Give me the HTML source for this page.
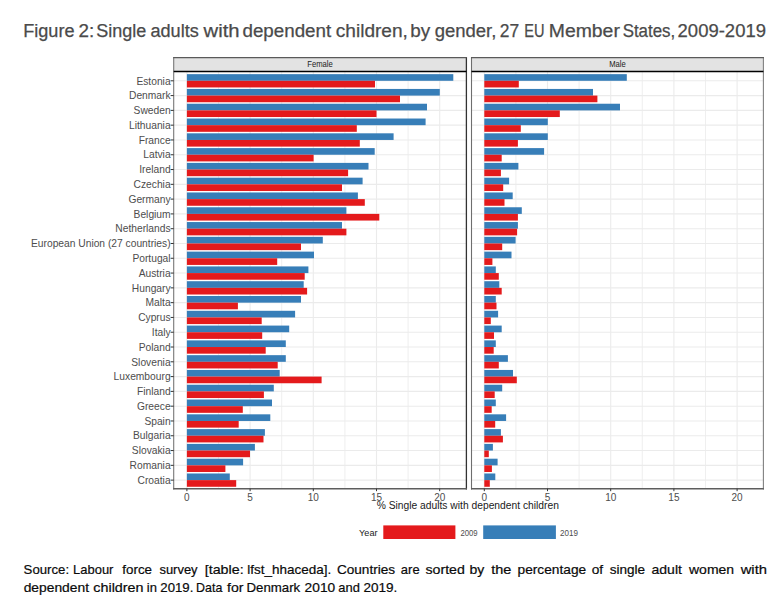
<!DOCTYPE html>
<html><head><meta charset="utf-8"><style>
html,body{margin:0;padding:0;background:#fff;width:774px;height:612px;overflow:hidden}
svg{display:block;font-family:"Liberation Sans",sans-serif}
</style></head><body>
<svg width="774" height="612" viewBox="0 0 774 612">
<rect width="774" height="612" fill="#fff"/>
<rect x="173.7" y="57.6" width="292.7" height="13.899999999999999" fill="#E3E3E3"/>
<text x="320.04999999999995" y="67.2" font-size="8.4" text-anchor="middle" fill="#1A1A1A" textLength="25.6" lengthAdjust="spacingAndGlyphs">Female</text>
<rect x="173.7" y="71.5" width="292.7" height="417.2" fill="#fff"/>
<line x1="218.50" y1="71.5" x2="218.50" y2="488.7" stroke="#EBEBEB" stroke-width="0.8"/>
<line x1="281.70" y1="71.5" x2="281.70" y2="488.7" stroke="#EBEBEB" stroke-width="0.8"/>
<line x1="344.90" y1="71.5" x2="344.90" y2="488.7" stroke="#EBEBEB" stroke-width="0.8"/>
<line x1="408.10" y1="71.5" x2="408.10" y2="488.7" stroke="#EBEBEB" stroke-width="0.8"/>
<line x1="186.90" y1="71.5" x2="186.90" y2="488.7" stroke="#EBEBEB" stroke-width="1.1"/>
<line x1="250.10" y1="71.5" x2="250.10" y2="488.7" stroke="#EBEBEB" stroke-width="1.1"/>
<line x1="313.30" y1="71.5" x2="313.30" y2="488.7" stroke="#EBEBEB" stroke-width="1.1"/>
<line x1="376.50" y1="71.5" x2="376.50" y2="488.7" stroke="#EBEBEB" stroke-width="1.1"/>
<line x1="439.70" y1="71.5" x2="439.70" y2="488.7" stroke="#EBEBEB" stroke-width="1.1"/>
<line x1="173.7" y1="80.80" x2="466.4" y2="80.80" stroke="#EBEBEB" stroke-width="1.1"/>
<line x1="173.7" y1="95.59" x2="466.4" y2="95.59" stroke="#EBEBEB" stroke-width="1.1"/>
<line x1="173.7" y1="110.38" x2="466.4" y2="110.38" stroke="#EBEBEB" stroke-width="1.1"/>
<line x1="173.7" y1="125.17" x2="466.4" y2="125.17" stroke="#EBEBEB" stroke-width="1.1"/>
<line x1="173.7" y1="139.96" x2="466.4" y2="139.96" stroke="#EBEBEB" stroke-width="1.1"/>
<line x1="173.7" y1="154.75" x2="466.4" y2="154.75" stroke="#EBEBEB" stroke-width="1.1"/>
<line x1="173.7" y1="169.54" x2="466.4" y2="169.54" stroke="#EBEBEB" stroke-width="1.1"/>
<line x1="173.7" y1="184.33" x2="466.4" y2="184.33" stroke="#EBEBEB" stroke-width="1.1"/>
<line x1="173.7" y1="199.12" x2="466.4" y2="199.12" stroke="#EBEBEB" stroke-width="1.1"/>
<line x1="173.7" y1="213.91" x2="466.4" y2="213.91" stroke="#EBEBEB" stroke-width="1.1"/>
<line x1="173.7" y1="228.70" x2="466.4" y2="228.70" stroke="#EBEBEB" stroke-width="1.1"/>
<line x1="173.7" y1="243.49" x2="466.4" y2="243.49" stroke="#EBEBEB" stroke-width="1.1"/>
<line x1="173.7" y1="258.28" x2="466.4" y2="258.28" stroke="#EBEBEB" stroke-width="1.1"/>
<line x1="173.7" y1="273.07" x2="466.4" y2="273.07" stroke="#EBEBEB" stroke-width="1.1"/>
<line x1="173.7" y1="287.86" x2="466.4" y2="287.86" stroke="#EBEBEB" stroke-width="1.1"/>
<line x1="173.7" y1="302.65" x2="466.4" y2="302.65" stroke="#EBEBEB" stroke-width="1.1"/>
<line x1="173.7" y1="317.44" x2="466.4" y2="317.44" stroke="#EBEBEB" stroke-width="1.1"/>
<line x1="173.7" y1="332.23" x2="466.4" y2="332.23" stroke="#EBEBEB" stroke-width="1.1"/>
<line x1="173.7" y1="347.02" x2="466.4" y2="347.02" stroke="#EBEBEB" stroke-width="1.1"/>
<line x1="173.7" y1="361.81" x2="466.4" y2="361.81" stroke="#EBEBEB" stroke-width="1.1"/>
<line x1="173.7" y1="376.60" x2="466.4" y2="376.60" stroke="#EBEBEB" stroke-width="1.1"/>
<line x1="173.7" y1="391.39" x2="466.4" y2="391.39" stroke="#EBEBEB" stroke-width="1.1"/>
<line x1="173.7" y1="406.18" x2="466.4" y2="406.18" stroke="#EBEBEB" stroke-width="1.1"/>
<line x1="173.7" y1="420.97" x2="466.4" y2="420.97" stroke="#EBEBEB" stroke-width="1.1"/>
<line x1="173.7" y1="435.76" x2="466.4" y2="435.76" stroke="#EBEBEB" stroke-width="1.1"/>
<line x1="173.7" y1="450.55" x2="466.4" y2="450.55" stroke="#EBEBEB" stroke-width="1.1"/>
<line x1="173.7" y1="465.34" x2="466.4" y2="465.34" stroke="#EBEBEB" stroke-width="1.1"/>
<line x1="173.7" y1="480.13" x2="466.4" y2="480.13" stroke="#EBEBEB" stroke-width="1.1"/>
<rect x="186.9" y="74.15" width="266.40" height="6.65" fill="#377EB8"/>
<rect x="186.9" y="80.80" width="188.10" height="6.65" fill="#E41A1C"/>
<rect x="186.9" y="88.94" width="252.90" height="6.65" fill="#377EB8"/>
<rect x="186.9" y="95.59" width="213.10" height="6.65" fill="#E41A1C"/>
<rect x="186.9" y="103.73" width="240.10" height="6.65" fill="#377EB8"/>
<rect x="186.9" y="110.38" width="189.60" height="6.65" fill="#E41A1C"/>
<rect x="186.9" y="118.52" width="238.70" height="6.65" fill="#377EB8"/>
<rect x="186.9" y="125.17" width="169.90" height="6.65" fill="#E41A1C"/>
<rect x="186.9" y="133.31" width="206.70" height="6.65" fill="#377EB8"/>
<rect x="186.9" y="139.96" width="172.90" height="6.65" fill="#E41A1C"/>
<rect x="186.9" y="148.10" width="187.80" height="6.65" fill="#377EB8"/>
<rect x="186.9" y="154.75" width="126.70" height="6.65" fill="#E41A1C"/>
<rect x="186.9" y="162.89" width="181.60" height="6.65" fill="#377EB8"/>
<rect x="186.9" y="169.54" width="161.20" height="6.65" fill="#E41A1C"/>
<rect x="186.9" y="177.68" width="175.70" height="6.65" fill="#377EB8"/>
<rect x="186.9" y="184.33" width="155.10" height="6.65" fill="#E41A1C"/>
<rect x="186.9" y="192.47" width="171.00" height="6.65" fill="#377EB8"/>
<rect x="186.9" y="199.12" width="177.90" height="6.65" fill="#E41A1C"/>
<rect x="186.9" y="207.26" width="159.50" height="6.65" fill="#377EB8"/>
<rect x="186.9" y="213.91" width="192.40" height="6.65" fill="#E41A1C"/>
<rect x="186.9" y="222.05" width="155.10" height="6.65" fill="#377EB8"/>
<rect x="186.9" y="228.70" width="159.50" height="6.65" fill="#E41A1C"/>
<rect x="186.9" y="236.84" width="135.90" height="6.65" fill="#377EB8"/>
<rect x="186.9" y="243.49" width="114.10" height="6.65" fill="#E41A1C"/>
<rect x="186.9" y="251.63" width="127.10" height="6.65" fill="#377EB8"/>
<rect x="186.9" y="258.28" width="90.30" height="6.65" fill="#E41A1C"/>
<rect x="186.9" y="266.42" width="121.50" height="6.65" fill="#377EB8"/>
<rect x="186.9" y="273.07" width="117.80" height="6.65" fill="#E41A1C"/>
<rect x="186.9" y="281.21" width="116.80" height="6.65" fill="#377EB8"/>
<rect x="186.9" y="287.86" width="120.20" height="6.65" fill="#E41A1C"/>
<rect x="186.9" y="296.00" width="114.10" height="6.65" fill="#377EB8"/>
<rect x="186.9" y="302.65" width="51.00" height="6.65" fill="#E41A1C"/>
<rect x="186.9" y="310.79" width="108.20" height="6.65" fill="#377EB8"/>
<rect x="186.9" y="317.44" width="74.80" height="6.65" fill="#E41A1C"/>
<rect x="186.9" y="325.58" width="102.30" height="6.65" fill="#377EB8"/>
<rect x="186.9" y="332.23" width="75.30" height="6.65" fill="#E41A1C"/>
<rect x="186.9" y="340.37" width="98.90" height="6.65" fill="#377EB8"/>
<rect x="186.9" y="347.02" width="78.80" height="6.65" fill="#E41A1C"/>
<rect x="186.9" y="355.16" width="98.90" height="6.65" fill="#377EB8"/>
<rect x="186.9" y="361.81" width="90.80" height="6.65" fill="#E41A1C"/>
<rect x="186.9" y="369.95" width="92.80" height="6.65" fill="#377EB8"/>
<rect x="186.9" y="376.60" width="134.70" height="6.65" fill="#E41A1C"/>
<rect x="186.9" y="384.74" width="86.90" height="6.65" fill="#377EB8"/>
<rect x="186.9" y="391.39" width="77.00" height="6.65" fill="#E41A1C"/>
<rect x="186.9" y="399.53" width="85.10" height="6.65" fill="#377EB8"/>
<rect x="186.9" y="406.18" width="55.90" height="6.65" fill="#E41A1C"/>
<rect x="186.9" y="414.32" width="83.40" height="6.65" fill="#377EB8"/>
<rect x="186.9" y="420.97" width="51.80" height="6.65" fill="#E41A1C"/>
<rect x="186.9" y="429.11" width="78.00" height="6.65" fill="#377EB8"/>
<rect x="186.9" y="435.76" width="76.60" height="6.65" fill="#E41A1C"/>
<rect x="186.9" y="443.90" width="68.00" height="6.65" fill="#377EB8"/>
<rect x="186.9" y="450.55" width="63.10" height="6.65" fill="#E41A1C"/>
<rect x="186.9" y="458.69" width="56.20" height="6.65" fill="#377EB8"/>
<rect x="186.9" y="465.34" width="38.50" height="6.65" fill="#E41A1C"/>
<rect x="186.9" y="473.48" width="42.90" height="6.65" fill="#377EB8"/>
<rect x="186.9" y="480.13" width="49.30" height="6.65" fill="#E41A1C"/>
<line x1="173.7" y1="57.1" x2="173.7" y2="489.5" stroke="#777" stroke-width="1.1"/>
<line x1="466.4" y1="57.1" x2="466.4" y2="489.5" stroke="#333" stroke-width="1.3"/>
<line x1="173.2" y1="57.6" x2="466.9" y2="57.6" stroke="#5A5A5A" stroke-width="1.1"/>
<line x1="173.2" y1="488.7" x2="466.9" y2="488.7" stroke="#5E5E5E" stroke-width="1.6"/>
<line x1="173.7" y1="71.5" x2="466.4" y2="71.5" stroke="#000" stroke-width="1.3"/>
<line x1="186.90" y1="488.7" x2="186.90" y2="491.2" stroke="#333" stroke-width="1"/>
<text x="186.90" y="500.5" font-size="10" text-anchor="middle" fill="#4D4D4D">0</text>
<line x1="250.10" y1="488.7" x2="250.10" y2="491.2" stroke="#333" stroke-width="1"/>
<text x="250.10" y="500.5" font-size="10" text-anchor="middle" fill="#4D4D4D">5</text>
<line x1="313.30" y1="488.7" x2="313.30" y2="491.2" stroke="#333" stroke-width="1"/>
<text x="313.30" y="500.5" font-size="10" text-anchor="middle" fill="#4D4D4D">10</text>
<line x1="376.50" y1="488.7" x2="376.50" y2="491.2" stroke="#333" stroke-width="1"/>
<text x="376.50" y="500.5" font-size="10" text-anchor="middle" fill="#4D4D4D">15</text>
<line x1="439.70" y1="488.7" x2="439.70" y2="491.2" stroke="#333" stroke-width="1"/>
<text x="439.70" y="500.5" font-size="10" text-anchor="middle" fill="#4D4D4D">20</text>
<rect x="471.5" y="57.6" width="291.9" height="13.899999999999999" fill="#E3E3E3"/>
<text x="617.45" y="67.2" font-size="8.4" text-anchor="middle" fill="#1A1A1A" textLength="16.6" lengthAdjust="spacingAndGlyphs">Male</text>
<rect x="471.5" y="71.5" width="291.9" height="417.2" fill="#fff"/>
<line x1="515.90" y1="71.5" x2="515.90" y2="488.7" stroke="#EBEBEB" stroke-width="0.8"/>
<line x1="579.10" y1="71.5" x2="579.10" y2="488.7" stroke="#EBEBEB" stroke-width="0.8"/>
<line x1="642.30" y1="71.5" x2="642.30" y2="488.7" stroke="#EBEBEB" stroke-width="0.8"/>
<line x1="705.50" y1="71.5" x2="705.50" y2="488.7" stroke="#EBEBEB" stroke-width="0.8"/>
<line x1="484.30" y1="71.5" x2="484.30" y2="488.7" stroke="#EBEBEB" stroke-width="1.1"/>
<line x1="547.50" y1="71.5" x2="547.50" y2="488.7" stroke="#EBEBEB" stroke-width="1.1"/>
<line x1="610.70" y1="71.5" x2="610.70" y2="488.7" stroke="#EBEBEB" stroke-width="1.1"/>
<line x1="673.90" y1="71.5" x2="673.90" y2="488.7" stroke="#EBEBEB" stroke-width="1.1"/>
<line x1="737.10" y1="71.5" x2="737.10" y2="488.7" stroke="#EBEBEB" stroke-width="1.1"/>
<line x1="471.5" y1="80.80" x2="763.4" y2="80.80" stroke="#EBEBEB" stroke-width="1.1"/>
<line x1="471.5" y1="95.59" x2="763.4" y2="95.59" stroke="#EBEBEB" stroke-width="1.1"/>
<line x1="471.5" y1="110.38" x2="763.4" y2="110.38" stroke="#EBEBEB" stroke-width="1.1"/>
<line x1="471.5" y1="125.17" x2="763.4" y2="125.17" stroke="#EBEBEB" stroke-width="1.1"/>
<line x1="471.5" y1="139.96" x2="763.4" y2="139.96" stroke="#EBEBEB" stroke-width="1.1"/>
<line x1="471.5" y1="154.75" x2="763.4" y2="154.75" stroke="#EBEBEB" stroke-width="1.1"/>
<line x1="471.5" y1="169.54" x2="763.4" y2="169.54" stroke="#EBEBEB" stroke-width="1.1"/>
<line x1="471.5" y1="184.33" x2="763.4" y2="184.33" stroke="#EBEBEB" stroke-width="1.1"/>
<line x1="471.5" y1="199.12" x2="763.4" y2="199.12" stroke="#EBEBEB" stroke-width="1.1"/>
<line x1="471.5" y1="213.91" x2="763.4" y2="213.91" stroke="#EBEBEB" stroke-width="1.1"/>
<line x1="471.5" y1="228.70" x2="763.4" y2="228.70" stroke="#EBEBEB" stroke-width="1.1"/>
<line x1="471.5" y1="243.49" x2="763.4" y2="243.49" stroke="#EBEBEB" stroke-width="1.1"/>
<line x1="471.5" y1="258.28" x2="763.4" y2="258.28" stroke="#EBEBEB" stroke-width="1.1"/>
<line x1="471.5" y1="273.07" x2="763.4" y2="273.07" stroke="#EBEBEB" stroke-width="1.1"/>
<line x1="471.5" y1="287.86" x2="763.4" y2="287.86" stroke="#EBEBEB" stroke-width="1.1"/>
<line x1="471.5" y1="302.65" x2="763.4" y2="302.65" stroke="#EBEBEB" stroke-width="1.1"/>
<line x1="471.5" y1="317.44" x2="763.4" y2="317.44" stroke="#EBEBEB" stroke-width="1.1"/>
<line x1="471.5" y1="332.23" x2="763.4" y2="332.23" stroke="#EBEBEB" stroke-width="1.1"/>
<line x1="471.5" y1="347.02" x2="763.4" y2="347.02" stroke="#EBEBEB" stroke-width="1.1"/>
<line x1="471.5" y1="361.81" x2="763.4" y2="361.81" stroke="#EBEBEB" stroke-width="1.1"/>
<line x1="471.5" y1="376.60" x2="763.4" y2="376.60" stroke="#EBEBEB" stroke-width="1.1"/>
<line x1="471.5" y1="391.39" x2="763.4" y2="391.39" stroke="#EBEBEB" stroke-width="1.1"/>
<line x1="471.5" y1="406.18" x2="763.4" y2="406.18" stroke="#EBEBEB" stroke-width="1.1"/>
<line x1="471.5" y1="420.97" x2="763.4" y2="420.97" stroke="#EBEBEB" stroke-width="1.1"/>
<line x1="471.5" y1="435.76" x2="763.4" y2="435.76" stroke="#EBEBEB" stroke-width="1.1"/>
<line x1="471.5" y1="450.55" x2="763.4" y2="450.55" stroke="#EBEBEB" stroke-width="1.1"/>
<line x1="471.5" y1="465.34" x2="763.4" y2="465.34" stroke="#EBEBEB" stroke-width="1.1"/>
<line x1="471.5" y1="480.13" x2="763.4" y2="480.13" stroke="#EBEBEB" stroke-width="1.1"/>
<rect x="484.3" y="74.15" width="142.50" height="6.65" fill="#377EB8"/>
<rect x="484.3" y="80.80" width="34.50" height="6.65" fill="#E41A1C"/>
<rect x="484.3" y="88.94" width="108.70" height="6.65" fill="#377EB8"/>
<rect x="484.3" y="95.59" width="113.10" height="6.65" fill="#E41A1C"/>
<rect x="484.3" y="103.73" width="135.70" height="6.65" fill="#377EB8"/>
<rect x="484.3" y="110.38" width="75.50" height="6.65" fill="#E41A1C"/>
<rect x="484.3" y="118.52" width="63.50" height="6.65" fill="#377EB8"/>
<rect x="484.3" y="125.17" width="36.50" height="6.65" fill="#E41A1C"/>
<rect x="484.3" y="133.31" width="63.50" height="6.65" fill="#377EB8"/>
<rect x="484.3" y="139.96" width="33.60" height="6.65" fill="#E41A1C"/>
<rect x="484.3" y="148.10" width="59.80" height="6.65" fill="#377EB8"/>
<rect x="484.3" y="154.75" width="17.40" height="6.65" fill="#E41A1C"/>
<rect x="484.3" y="162.89" width="34.10" height="6.65" fill="#377EB8"/>
<rect x="484.3" y="169.54" width="16.60" height="6.65" fill="#E41A1C"/>
<rect x="484.3" y="177.68" width="24.80" height="6.65" fill="#377EB8"/>
<rect x="484.3" y="184.33" width="18.90" height="6.65" fill="#E41A1C"/>
<rect x="484.3" y="192.47" width="28.40" height="6.65" fill="#377EB8"/>
<rect x="484.3" y="199.12" width="20.20" height="6.65" fill="#E41A1C"/>
<rect x="484.3" y="207.26" width="37.50" height="6.65" fill="#377EB8"/>
<rect x="484.3" y="213.91" width="33.60" height="6.65" fill="#E41A1C"/>
<rect x="484.3" y="222.05" width="33.60" height="6.65" fill="#377EB8"/>
<rect x="484.3" y="228.70" width="32.80" height="6.65" fill="#E41A1C"/>
<rect x="484.3" y="236.84" width="31.30" height="6.65" fill="#377EB8"/>
<rect x="484.3" y="243.49" width="17.90" height="6.65" fill="#E41A1C"/>
<rect x="484.3" y="251.63" width="27.20" height="6.65" fill="#377EB8"/>
<rect x="484.3" y="258.28" width="8.10" height="6.65" fill="#E41A1C"/>
<rect x="484.3" y="266.42" width="11.50" height="6.65" fill="#377EB8"/>
<rect x="484.3" y="273.07" width="14.50" height="6.65" fill="#E41A1C"/>
<rect x="484.3" y="281.21" width="15.00" height="6.65" fill="#377EB8"/>
<rect x="484.3" y="287.86" width="17.40" height="6.65" fill="#E41A1C"/>
<rect x="484.3" y="296.00" width="11.50" height="6.65" fill="#377EB8"/>
<rect x="484.3" y="302.65" width="12.20" height="6.65" fill="#E41A1C"/>
<rect x="484.3" y="310.79" width="13.80" height="6.65" fill="#377EB8"/>
<rect x="484.3" y="317.44" width="6.50" height="6.65" fill="#E41A1C"/>
<rect x="484.3" y="325.58" width="17.40" height="6.65" fill="#377EB8"/>
<rect x="484.3" y="332.23" width="9.70" height="6.65" fill="#E41A1C"/>
<rect x="484.3" y="340.37" width="11.50" height="6.65" fill="#377EB8"/>
<rect x="484.3" y="347.02" width="9.40" height="6.65" fill="#E41A1C"/>
<rect x="484.3" y="355.16" width="23.60" height="6.65" fill="#377EB8"/>
<rect x="484.3" y="361.81" width="14.50" height="6.65" fill="#E41A1C"/>
<rect x="484.3" y="369.95" width="28.70" height="6.65" fill="#377EB8"/>
<rect x="484.3" y="376.60" width="32.50" height="6.65" fill="#E41A1C"/>
<rect x="484.3" y="384.74" width="17.90" height="6.65" fill="#377EB8"/>
<rect x="484.3" y="391.39" width="10.40" height="6.65" fill="#E41A1C"/>
<rect x="484.3" y="399.53" width="11.50" height="6.65" fill="#377EB8"/>
<rect x="484.3" y="406.18" width="7.40" height="6.65" fill="#E41A1C"/>
<rect x="484.3" y="414.32" width="21.80" height="6.65" fill="#377EB8"/>
<rect x="484.3" y="420.97" width="10.90" height="6.65" fill="#E41A1C"/>
<rect x="484.3" y="429.11" width="16.60" height="6.65" fill="#377EB8"/>
<rect x="484.3" y="435.76" width="18.60" height="6.65" fill="#E41A1C"/>
<rect x="484.3" y="443.90" width="8.60" height="6.65" fill="#377EB8"/>
<rect x="484.3" y="450.55" width="4.50" height="6.65" fill="#E41A1C"/>
<rect x="484.3" y="458.69" width="13.30" height="6.65" fill="#377EB8"/>
<rect x="484.3" y="465.34" width="7.60" height="6.65" fill="#E41A1C"/>
<rect x="484.3" y="473.48" width="11.00" height="6.65" fill="#377EB8"/>
<rect x="484.3" y="480.13" width="5.50" height="6.65" fill="#E41A1C"/>
<line x1="471.5" y1="57.1" x2="471.5" y2="489.5" stroke="#6E6E6E" stroke-width="1.1"/>
<line x1="763.4" y1="57.1" x2="763.4" y2="489.5" stroke="#808080" stroke-width="1.1"/>
<line x1="471.0" y1="57.6" x2="763.9" y2="57.6" stroke="#5A5A5A" stroke-width="1.1"/>
<line x1="471.0" y1="488.7" x2="763.9" y2="488.7" stroke="#5E5E5E" stroke-width="1.6"/>
<line x1="471.5" y1="71.5" x2="763.4" y2="71.5" stroke="#000" stroke-width="1.3"/>
<line x1="484.30" y1="488.7" x2="484.30" y2="491.2" stroke="#333" stroke-width="1"/>
<text x="484.30" y="500.5" font-size="10" text-anchor="middle" fill="#4D4D4D">0</text>
<line x1="547.50" y1="488.7" x2="547.50" y2="491.2" stroke="#333" stroke-width="1"/>
<text x="547.50" y="500.5" font-size="10" text-anchor="middle" fill="#4D4D4D">5</text>
<line x1="610.70" y1="488.7" x2="610.70" y2="491.2" stroke="#333" stroke-width="1"/>
<text x="610.70" y="500.5" font-size="10" text-anchor="middle" fill="#4D4D4D">10</text>
<line x1="673.90" y1="488.7" x2="673.90" y2="491.2" stroke="#333" stroke-width="1"/>
<text x="673.90" y="500.5" font-size="10" text-anchor="middle" fill="#4D4D4D">15</text>
<line x1="737.10" y1="488.7" x2="737.10" y2="491.2" stroke="#333" stroke-width="1"/>
<text x="737.10" y="500.5" font-size="10" text-anchor="middle" fill="#4D4D4D">20</text>
<line x1="170.6" y1="80.80" x2="173.7" y2="80.80" stroke="#333" stroke-width="1"/>
<text x="170.6" y="84.50" font-size="10.25" text-anchor="end" fill="#4D4D4D">Estonia</text>
<line x1="170.6" y1="95.59" x2="173.7" y2="95.59" stroke="#333" stroke-width="1"/>
<text x="170.6" y="99.29" font-size="10.25" text-anchor="end" fill="#4D4D4D">Denmark</text>
<line x1="170.6" y1="110.38" x2="173.7" y2="110.38" stroke="#333" stroke-width="1"/>
<text x="170.6" y="114.08" font-size="10.25" text-anchor="end" fill="#4D4D4D">Sweden</text>
<line x1="170.6" y1="125.17" x2="173.7" y2="125.17" stroke="#333" stroke-width="1"/>
<text x="170.6" y="128.87" font-size="10.25" text-anchor="end" fill="#4D4D4D">Lithuania</text>
<line x1="170.6" y1="139.96" x2="173.7" y2="139.96" stroke="#333" stroke-width="1"/>
<text x="170.6" y="143.66" font-size="10.25" text-anchor="end" fill="#4D4D4D">France</text>
<line x1="170.6" y1="154.75" x2="173.7" y2="154.75" stroke="#333" stroke-width="1"/>
<text x="170.6" y="158.45" font-size="10.25" text-anchor="end" fill="#4D4D4D">Latvia</text>
<line x1="170.6" y1="169.54" x2="173.7" y2="169.54" stroke="#333" stroke-width="1"/>
<text x="170.6" y="173.24" font-size="10.25" text-anchor="end" fill="#4D4D4D">Ireland</text>
<line x1="170.6" y1="184.33" x2="173.7" y2="184.33" stroke="#333" stroke-width="1"/>
<text x="170.6" y="188.03" font-size="10.25" text-anchor="end" fill="#4D4D4D">Czechia</text>
<line x1="170.6" y1="199.12" x2="173.7" y2="199.12" stroke="#333" stroke-width="1"/>
<text x="170.6" y="202.82" font-size="10.25" text-anchor="end" fill="#4D4D4D">Germany</text>
<line x1="170.6" y1="213.91" x2="173.7" y2="213.91" stroke="#333" stroke-width="1"/>
<text x="170.6" y="217.61" font-size="10.25" text-anchor="end" fill="#4D4D4D">Belgium</text>
<line x1="170.6" y1="228.70" x2="173.7" y2="228.70" stroke="#333" stroke-width="1"/>
<text x="170.6" y="232.40" font-size="10.25" text-anchor="end" fill="#4D4D4D">Netherlands</text>
<line x1="170.6" y1="243.49" x2="173.7" y2="243.49" stroke="#333" stroke-width="1"/>
<text x="170.6" y="247.19" font-size="10.25" text-anchor="end" fill="#4D4D4D">European Union (27 countries)</text>
<line x1="170.6" y1="258.28" x2="173.7" y2="258.28" stroke="#333" stroke-width="1"/>
<text x="170.6" y="261.98" font-size="10.25" text-anchor="end" fill="#4D4D4D">Portugal</text>
<line x1="170.6" y1="273.07" x2="173.7" y2="273.07" stroke="#333" stroke-width="1"/>
<text x="170.6" y="276.77" font-size="10.25" text-anchor="end" fill="#4D4D4D">Austria</text>
<line x1="170.6" y1="287.86" x2="173.7" y2="287.86" stroke="#333" stroke-width="1"/>
<text x="170.6" y="291.56" font-size="10.25" text-anchor="end" fill="#4D4D4D">Hungary</text>
<line x1="170.6" y1="302.65" x2="173.7" y2="302.65" stroke="#333" stroke-width="1"/>
<text x="170.6" y="306.35" font-size="10.25" text-anchor="end" fill="#4D4D4D">Malta</text>
<line x1="170.6" y1="317.44" x2="173.7" y2="317.44" stroke="#333" stroke-width="1"/>
<text x="170.6" y="321.14" font-size="10.25" text-anchor="end" fill="#4D4D4D">Cyprus</text>
<line x1="170.6" y1="332.23" x2="173.7" y2="332.23" stroke="#333" stroke-width="1"/>
<text x="170.6" y="335.93" font-size="10.25" text-anchor="end" fill="#4D4D4D">Italy</text>
<line x1="170.6" y1="347.02" x2="173.7" y2="347.02" stroke="#333" stroke-width="1"/>
<text x="170.6" y="350.72" font-size="10.25" text-anchor="end" fill="#4D4D4D">Poland</text>
<line x1="170.6" y1="361.81" x2="173.7" y2="361.81" stroke="#333" stroke-width="1"/>
<text x="170.6" y="365.51" font-size="10.25" text-anchor="end" fill="#4D4D4D">Slovenia</text>
<line x1="170.6" y1="376.60" x2="173.7" y2="376.60" stroke="#333" stroke-width="1"/>
<text x="170.6" y="380.30" font-size="10.25" text-anchor="end" fill="#4D4D4D">Luxembourg</text>
<line x1="170.6" y1="391.39" x2="173.7" y2="391.39" stroke="#333" stroke-width="1"/>
<text x="170.6" y="395.09" font-size="10.25" text-anchor="end" fill="#4D4D4D">Finland</text>
<line x1="170.6" y1="406.18" x2="173.7" y2="406.18" stroke="#333" stroke-width="1"/>
<text x="170.6" y="409.88" font-size="10.25" text-anchor="end" fill="#4D4D4D">Greece</text>
<line x1="170.6" y1="420.97" x2="173.7" y2="420.97" stroke="#333" stroke-width="1"/>
<text x="170.6" y="424.67" font-size="10.25" text-anchor="end" fill="#4D4D4D">Spain</text>
<line x1="170.6" y1="435.76" x2="173.7" y2="435.76" stroke="#333" stroke-width="1"/>
<text x="170.6" y="439.46" font-size="10.25" text-anchor="end" fill="#4D4D4D">Bulgaria</text>
<line x1="170.6" y1="450.55" x2="173.7" y2="450.55" stroke="#333" stroke-width="1"/>
<text x="170.6" y="454.25" font-size="10.25" text-anchor="end" fill="#4D4D4D">Slovakia</text>
<line x1="170.6" y1="465.34" x2="173.7" y2="465.34" stroke="#333" stroke-width="1"/>
<text x="170.6" y="469.04" font-size="10.25" text-anchor="end" fill="#4D4D4D">Romania</text>
<line x1="170.6" y1="480.13" x2="173.7" y2="480.13" stroke="#333" stroke-width="1"/>
<text x="170.6" y="483.83" font-size="10.25" text-anchor="end" fill="#4D4D4D">Croatia</text>
<text x="376.7" y="509" font-size="10" fill="#1A1A1A" textLength="182.2" lengthAdjust="spacingAndGlyphs">% Single adults with dependent children</text>
<text x="359.1" y="536" font-size="9.3" fill="#1A1A1A" textLength="18.4" lengthAdjust="spacingAndGlyphs">Year</text>
<rect x="383.3" y="525.4" width="72.1" height="13.6" fill="#E41A1C"/>
<text x="460.4" y="536" font-size="8.6" fill="#4D4D4D" textLength="17.2" lengthAdjust="spacingAndGlyphs">2009</text>
<rect x="483.2" y="525.4" width="72.7" height="13.6" fill="#377EB8"/>
<text x="560.0" y="536" font-size="8.6" fill="#4D4D4D" textLength="17.9" lengthAdjust="spacingAndGlyphs">2019</text>
<text x="23.20" y="37" font-size="18" fill="#4A4A4A" textLength="51.31" lengthAdjust="spacingAndGlyphs" stroke="#4A4A4A" stroke-width="0.25">Figure</text>
<text x="78.46" y="37" font-size="18" fill="#4A4A4A" textLength="15.71" lengthAdjust="spacingAndGlyphs" stroke="#4A4A4A" stroke-width="0.25">2:</text>
<text x="96.29" y="37" font-size="18" fill="#4A4A4A" textLength="50.12" lengthAdjust="spacingAndGlyphs" stroke="#4A4A4A" stroke-width="0.25">Single</text>
<text x="150.48" y="37" font-size="18" fill="#4A4A4A" textLength="48.33" lengthAdjust="spacingAndGlyphs" stroke="#4A4A4A" stroke-width="0.25">adults</text>
<text x="203.60" y="37" font-size="18" fill="#4A4A4A" textLength="35.98" lengthAdjust="spacingAndGlyphs" stroke="#4A4A4A" stroke-width="0.25">with</text>
<text x="242.45" y="37" font-size="18" fill="#4A4A4A" textLength="88.79" lengthAdjust="spacingAndGlyphs" stroke="#4A4A4A" stroke-width="0.25">dependent</text>
<text x="335.74" y="37" font-size="18" fill="#4A4A4A" textLength="72.18" lengthAdjust="spacingAndGlyphs" stroke="#4A4A4A" stroke-width="0.25">children,</text>
<text x="410.27" y="37" font-size="18" fill="#4A4A4A" textLength="19.95" lengthAdjust="spacingAndGlyphs" stroke="#4A4A4A" stroke-width="0.25">by</text>
<text x="434.66" y="37" font-size="18" fill="#4A4A4A" textLength="61.74" lengthAdjust="spacingAndGlyphs" stroke="#4A4A4A" stroke-width="0.25">gender,</text>
<text x="499.83" y="37" font-size="18" fill="#4A4A4A" textLength="19.38" lengthAdjust="spacingAndGlyphs" stroke="#4A4A4A" stroke-width="0.25">27</text>
<text x="524.34" y="37" font-size="18" fill="#4A4A4A" textLength="20.22" lengthAdjust="spacingAndGlyphs" stroke="#4A4A4A" stroke-width="0.25">EU</text>
<text x="548.75" y="37" font-size="18" fill="#4A4A4A" textLength="71.09" lengthAdjust="spacingAndGlyphs" stroke="#4A4A4A" stroke-width="0.25">Member</text>
<text x="622.64" y="37" font-size="18" fill="#4A4A4A" textLength="52.65" lengthAdjust="spacingAndGlyphs" stroke="#4A4A4A" stroke-width="0.25">States,</text>
<text x="677.58" y="37" font-size="18" fill="#4A4A4A" textLength="88.40" lengthAdjust="spacingAndGlyphs" stroke="#4A4A4A" stroke-width="0.25">2009-2019</text>
<text x="23.61" y="574" font-size="12.6" fill="#0A0A0A" textLength="45.50" lengthAdjust="spacingAndGlyphs" stroke="#0A0A0A" stroke-width="0.2">Source:</text>
<text x="73.06" y="574" font-size="12.6" fill="#0A0A0A" textLength="40.38" lengthAdjust="spacingAndGlyphs" stroke="#0A0A0A" stroke-width="0.2">Labour</text>
<text x="122.30" y="574" font-size="12.6" fill="#0A0A0A" textLength="29.75" lengthAdjust="spacingAndGlyphs" stroke="#0A0A0A" stroke-width="0.2">force</text>
<text x="159.41" y="574" font-size="12.6" fill="#0A0A0A" textLength="38.19" lengthAdjust="spacingAndGlyphs" stroke="#0A0A0A" stroke-width="0.2">survey</text>
<text x="204.70" y="574" font-size="12.6" fill="#0A0A0A" textLength="38.95" lengthAdjust="spacingAndGlyphs" stroke="#0A0A0A" stroke-width="0.2">[table:</text>
<text x="247.22" y="574" font-size="12.6" fill="#0A0A0A" textLength="83.91" lengthAdjust="spacingAndGlyphs" stroke="#0A0A0A" stroke-width="0.2">lfst_hhaceda].</text>
<text x="336.92" y="574" font-size="12.6" fill="#0A0A0A" textLength="58.26" lengthAdjust="spacingAndGlyphs" stroke="#0A0A0A" stroke-width="0.2">Countries</text>
<text x="400.88" y="574" font-size="12.6" fill="#0A0A0A" textLength="18.71" lengthAdjust="spacingAndGlyphs" stroke="#0A0A0A" stroke-width="0.2">are</text>
<text x="425.47" y="574" font-size="12.6" fill="#0A0A0A" textLength="39.44" lengthAdjust="spacingAndGlyphs" stroke="#0A0A0A" stroke-width="0.2">sorted</text>
<text x="469.49" y="574" font-size="12.6" fill="#0A0A0A" textLength="14.83" lengthAdjust="spacingAndGlyphs" stroke="#0A0A0A" stroke-width="0.2">by</text>
<text x="491.18" y="574" font-size="12.6" fill="#0A0A0A" textLength="20.17" lengthAdjust="spacingAndGlyphs" stroke="#0A0A0A" stroke-width="0.2">the</text>
<text x="517.51" y="574" font-size="12.6" fill="#0A0A0A" textLength="68.70" lengthAdjust="spacingAndGlyphs" stroke="#0A0A0A" stroke-width="0.2">percentage</text>
<text x="591.75" y="574" font-size="12.6" fill="#0A0A0A" textLength="11.43" lengthAdjust="spacingAndGlyphs" stroke="#0A0A0A" stroke-width="0.2">of</text>
<text x="609.69" y="574" font-size="12.6" fill="#0A0A0A" textLength="35.46" lengthAdjust="spacingAndGlyphs" stroke="#0A0A0A" stroke-width="0.2">single</text>
<text x="651.54" y="574" font-size="12.6" fill="#0A0A0A" textLength="30.38" lengthAdjust="spacingAndGlyphs" stroke="#0A0A0A" stroke-width="0.2">adult</text>
<text x="689.00" y="574" font-size="12.6" fill="#0A0A0A" textLength="45.09" lengthAdjust="spacingAndGlyphs" stroke="#0A0A0A" stroke-width="0.2">women</text>
<text x="740.70" y="574" font-size="12.6" fill="#0A0A0A" textLength="26.31" lengthAdjust="spacingAndGlyphs" stroke="#0A0A0A" stroke-width="0.2">with</text>
<text x="23.65" y="591.5" font-size="12.6" fill="#0A0A0A" textLength="65.35" lengthAdjust="spacingAndGlyphs" stroke="#0A0A0A" stroke-width="0.2">dependent</text>
<text x="93.33" y="591.5" font-size="12.6" fill="#0A0A0A" textLength="50.24" lengthAdjust="spacingAndGlyphs" stroke="#0A0A0A" stroke-width="0.2">children</text>
<text x="146.75" y="591.5" font-size="12.6" fill="#0A0A0A" textLength="10.14" lengthAdjust="spacingAndGlyphs" stroke="#0A0A0A" stroke-width="0.2">in</text>
<text x="160.34" y="591.5" font-size="12.6" fill="#0A0A0A" textLength="32.98" lengthAdjust="spacingAndGlyphs" stroke="#0A0A0A" stroke-width="0.2">2019.</text>
<text x="196.11" y="591.5" font-size="12.6" fill="#0A0A0A" textLength="26.22" lengthAdjust="spacingAndGlyphs" stroke="#0A0A0A" stroke-width="0.2">Data</text>
<text x="227.09" y="591.5" font-size="12.6" fill="#0A0A0A" textLength="16.45" lengthAdjust="spacingAndGlyphs" stroke="#0A0A0A" stroke-width="0.2">for</text>
<text x="246.44" y="591.5" font-size="12.6" fill="#0A0A0A" textLength="53.78" lengthAdjust="spacingAndGlyphs" stroke="#0A0A0A" stroke-width="0.2">Denmark</text>
<text x="304.61" y="591.5" font-size="12.6" fill="#0A0A0A" textLength="30.56" lengthAdjust="spacingAndGlyphs" stroke="#0A0A0A" stroke-width="0.2">2010</text>
<text x="338.38" y="591.5" font-size="12.6" fill="#0A0A0A" textLength="21.50" lengthAdjust="spacingAndGlyphs" stroke="#0A0A0A" stroke-width="0.2">and</text>
<text x="363.42" y="591.5" font-size="12.6" fill="#0A0A0A" textLength="33.83" lengthAdjust="spacingAndGlyphs" stroke="#0A0A0A" stroke-width="0.2">2019.</text>
</svg>
</body></html>
